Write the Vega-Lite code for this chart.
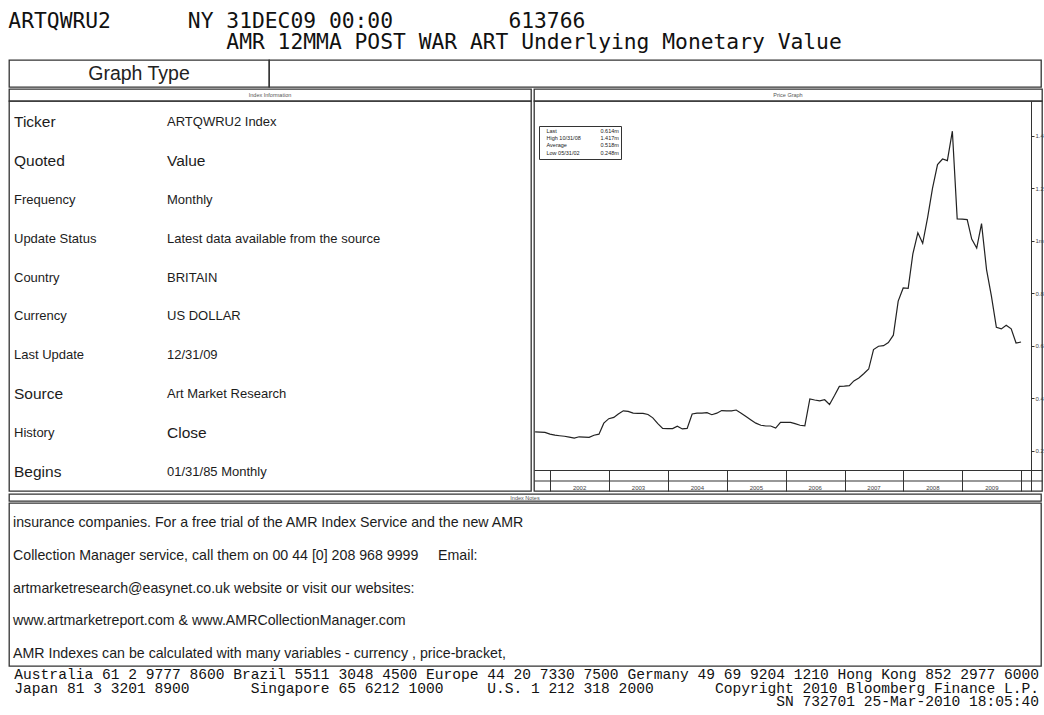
{
  "$schema": "https://vega.github.io/schema/vega-lite/v6.json",
  "background": "white",
  "padding": {"left": 8, "top": 11, "right": 0, "bottom": 0},
  "spacing": 0,
  "resolve": {"scale": {"color": "independent"}, "legend": {"color": "independent"}},
  "title": {
    "text": [
      "ARTQWRU2\u00a0\u00a0\u00a0\u00a0\u00a0\u00a0NY 31DEC09 00:00\u00a0\u00a0\u00a0\u00a0\u00a0\u00a0\u00a0\u00a0\u00a0613766",
      "\u200b\u00a0\u00a0\u00a0\u00a0\u00a0\u00a0\u00a0\u00a0\u00a0\u00a0\u00a0\u00a0\u00a0\u00a0\u00a0\u00a0\u00a0AMR 12MMA POST WAR ART Underlying Monetary Value"
    ],
    "anchor": "start",
    "font": "DejaVu Sans Mono",
    "fontSize": 21.3,
    "fontWeight": "normal",
    "color": "#111",
    "lineHeight": 21,
    "offset": 6
  },
  "config": {
    "view": {"stroke": "#333", "strokeWidth": 1.3},
    "font": "Liberation Sans"
  },
  "datasets": {
    "series": [
      {"date": "2001-09-30", "value": 0.272},
      {"date": "2001-10-31", "value": 0.271},
      {"date": "2001-11-30", "value": 0.270},
      {"date": "2001-12-31", "value": 0.263},
      {"date": "2002-01-31", "value": 0.259},
      {"date": "2002-02-28", "value": 0.257},
      {"date": "2002-03-31", "value": 0.255},
      {"date": "2002-04-30", "value": 0.252},
      {"date": "2002-05-31", "value": 0.248},
      {"date": "2002-06-30", "value": 0.253},
      {"date": "2002-07-31", "value": 0.252},
      {"date": "2002-08-31", "value": 0.251},
      {"date": "2002-09-30", "value": 0.259},
      {"date": "2002-10-31", "value": 0.263},
      {"date": "2002-11-30", "value": 0.305},
      {"date": "2002-12-31", "value": 0.322},
      {"date": "2003-01-31", "value": 0.327},
      {"date": "2003-02-28", "value": 0.340},
      {"date": "2003-03-31", "value": 0.352},
      {"date": "2003-04-30", "value": 0.350},
      {"date": "2003-05-31", "value": 0.343},
      {"date": "2003-06-30", "value": 0.342},
      {"date": "2003-07-31", "value": 0.342},
      {"date": "2003-08-31", "value": 0.338},
      {"date": "2003-09-30", "value": 0.325},
      {"date": "2003-10-31", "value": 0.303},
      {"date": "2003-11-30", "value": 0.285},
      {"date": "2003-12-31", "value": 0.284},
      {"date": "2004-01-31", "value": 0.284},
      {"date": "2004-02-29", "value": 0.293},
      {"date": "2004-03-31", "value": 0.283},
      {"date": "2004-04-30", "value": 0.285},
      {"date": "2004-05-31", "value": 0.340},
      {"date": "2004-06-30", "value": 0.343},
      {"date": "2004-07-31", "value": 0.343},
      {"date": "2004-08-31", "value": 0.345},
      {"date": "2004-09-30", "value": 0.337},
      {"date": "2004-10-31", "value": 0.343},
      {"date": "2004-11-30", "value": 0.353},
      {"date": "2004-12-31", "value": 0.352},
      {"date": "2005-01-31", "value": 0.352},
      {"date": "2005-02-28", "value": 0.355},
      {"date": "2005-03-31", "value": 0.343},
      {"date": "2005-04-30", "value": 0.330},
      {"date": "2005-05-31", "value": 0.317},
      {"date": "2005-06-30", "value": 0.305},
      {"date": "2005-07-31", "value": 0.297},
      {"date": "2005-08-31", "value": 0.294},
      {"date": "2005-09-30", "value": 0.294},
      {"date": "2005-10-31", "value": 0.286},
      {"date": "2005-11-30", "value": 0.308},
      {"date": "2005-12-31", "value": 0.308},
      {"date": "2006-01-31", "value": 0.308},
      {"date": "2006-02-28", "value": 0.303},
      {"date": "2006-03-31", "value": 0.297},
      {"date": "2006-04-30", "value": 0.295},
      {"date": "2006-05-31", "value": 0.397},
      {"date": "2006-06-30", "value": 0.393},
      {"date": "2006-07-31", "value": 0.390},
      {"date": "2006-08-31", "value": 0.394},
      {"date": "2006-09-30", "value": 0.376},
      {"date": "2006-10-31", "value": 0.410},
      {"date": "2006-11-30", "value": 0.445},
      {"date": "2006-12-31", "value": 0.446},
      {"date": "2007-01-31", "value": 0.448},
      {"date": "2007-02-28", "value": 0.466},
      {"date": "2007-03-31", "value": 0.477},
      {"date": "2007-04-30", "value": 0.493},
      {"date": "2007-05-31", "value": 0.511},
      {"date": "2007-06-30", "value": 0.585},
      {"date": "2007-07-31", "value": 0.598},
      {"date": "2007-08-31", "value": 0.600},
      {"date": "2007-09-30", "value": 0.612},
      {"date": "2007-10-31", "value": 0.640},
      {"date": "2007-11-30", "value": 0.770},
      {"date": "2007-12-31", "value": 0.820},
      {"date": "2008-01-31", "value": 0.818},
      {"date": "2008-02-29", "value": 0.950},
      {"date": "2008-03-31", "value": 1.030},
      {"date": "2008-04-30", "value": 0.990},
      {"date": "2008-05-31", "value": 1.090},
      {"date": "2008-06-30", "value": 1.200},
      {"date": "2008-07-31", "value": 1.290},
      {"date": "2008-08-31", "value": 1.311},
      {"date": "2008-09-30", "value": 1.305},
      {"date": "2008-10-31", "value": 1.417},
      {"date": "2008-11-30", "value": 1.083},
      {"date": "2008-12-31", "value": 1.082},
      {"date": "2009-01-31", "value": 1.080},
      {"date": "2009-02-28", "value": 1.006},
      {"date": "2009-03-31", "value": 0.972},
      {"date": "2009-04-30", "value": 1.065},
      {"date": "2009-05-31", "value": 0.890},
      {"date": "2009-06-30", "value": 0.790},
      {"date": "2009-07-31", "value": 0.670},
      {"date": "2009-08-31", "value": 0.664},
      {"date": "2009-09-30", "value": 0.678},
      {"date": "2009-10-31", "value": 0.664},
      {"date": "2009-11-30", "value": 0.610},
      {"date": "2009-12-31", "value": 0.614}
    ]
  },
  "vconcat": [
    {
      "hconcat": [
        {
          "width": 260,
          "height": 27,
          "data": {"values": [{"label": "Graph Type"}]},
          "mark": {"type": "text", "font": "Liberation Sans", "fontSize": 19.5, "color": "#222"},
          "encoding": {
            "x": {"datum": 0.5, "type": "quantitative", "scale": {"domain": [0, 1]}, "axis": null},
            "y": {"datum": 0.5, "type": "quantitative", "scale": {"domain": [0, 1]}, "axis": null},
            "text": {"field": "label"}
          }
        },
        {
          "width": 772,
          "height": 27,
          "data": {"values": [{}]},
          "mark": {"type": "text", "text": ""},
          "encoding": {
            "x": {"datum": 0.5, "type": "quantitative", "scale": {"domain": [0, 1]}, "axis": null},
            "y": {"datum": 0.5, "type": "quantitative", "scale": {"domain": [0, 1]}, "axis": null}
          }
        }
      ],
      "spacing": 0,
      "bounds": "flush"
    },
    {
      "hconcat": [
        {
          "vconcat": [
            {
              "width": 522,
              "height": 12,
              "data": {"values": [{"panel": "Index Information"}]},
              "mark": {"type": "text", "fontSize": 5.5, "color": "#555"},
              "encoding": {
                "x": {"datum": 0.5, "type": "quantitative", "scale": {"domain": [0, 1]}, "axis": null},
                "y": {"datum": 0.5, "type": "quantitative", "scale": {"domain": [0, 1]}, "axis": null},
                "text": {"field": "panel"}
              }
            },
            {
              "width": 522,
              "height": 390,
              "data": {"values": [
                {"item": "Ticker", "value": "ARTQWRU2 Index"},
                {"item": "Quoted", "value": "Value"},
                {"item": "Frequency", "value": "Monthly"},
                {"item": "Update Status", "value": "Latest data available from the source"},
                {"item": "Country", "value": "BRITAIN"},
                {"item": "Currency", "value": "US DOLLAR"},
                {"item": "Last Update", "value": "12/31/09"},
                {"item": "Source", "value": "Art Market Research"},
                {"item": "History", "value": "Close"},
                {"item": "Begins", "value": "01/31/85 Monthly"}
              ]},
              "encoding": {
                "y": {"field": "item", "type": "nominal", "sort": null, "scale": {"type": "point", "range": [21, 371], "padding": 0}, "axis": null}
              },
              "layer": [
                {
                  "mark": {"type": "text", "align": "left", "baseline": "middle", "color": "#1c1c1c", "font": "Liberation Sans"},
                  "encoding": {
                    "x": {"datum": "label", "type": "nominal", "scale": {"type": "point", "domain": ["label", "value"], "range": [5, 158], "padding": 0}, "axis": null},
                    "text": {"field": "item"},
                    "size": {"condition": {"test": "indexof(['Ticker','Quoted','Source','Begins'], datum.item) >= 0", "value": 15.5}, "value": 13}
                  }
                },
                {
                  "mark": {"type": "text", "align": "left", "baseline": "middle", "color": "#1c1c1c", "font": "Liberation Sans"},
                  "encoding": {
                    "x": {"datum": "value", "type": "nominal", "scale": {"type": "point", "domain": ["label", "value"], "range": [5, 158], "padding": 0}, "axis": null},
                    "text": {"field": "value"},
                    "size": {"condition": {"test": "datum.item == 'Quoted' || datum.item == 'History'", "value": 15.5}, "value": 13}
                  }
                }
              ]
            }
          ],
          "spacing": 0,
          "bounds": "flush"
        },
        {
          "resolve": {"scale": {"color": "independent"}, "legend": {"color": "independent"}},
          "vconcat": [
            {
              "width": 508,
              "height": 12,
              "data": {"values": [{"panel": "Price Graph"}]},
              "mark": {"type": "text", "fontSize": 5.5, "color": "#555"},
              "encoding": {
                "x": {"datum": 0.5, "type": "quantitative", "scale": {"domain": [0, 1]}, "axis": null},
                "y": {"datum": 0.5, "type": "quantitative", "scale": {"domain": [0, 1]}, "axis": null},
                "text": {"field": "panel"}
              }
            },
            {
              "width": 508,
              "height": 390,
              "resolve": {"axis": {"x": "independent"}},
              "layer": [
                {
                  "data": {"name": "series"},
                  "mark": {"type": "line", "color": "#222", "strokeWidth": 1.2},
                  "encoding": {
                    "x": {
                      "field": "date", "type": "temporal",
                      "scale": {"type": "utc", "domain": [{"year": 2001, "month": 9, "date": 23, "utc": true}, {"year": 2010, "month": 5, "date": 10, "utc": true}]},
                      "axis": {
                        "orient": "bottom", "offset": -21, "title": null, "grid": false,
                        "domain": true, "domainColor": "#333", "domainWidth": 1.2,
                        "ticks": true, "tickSize": 21, "tickColor": "#333", "tickWidth": 1,
                        "tickCount": {"interval": "year", "step": 1},
                        "labelExpr": "utcyear(datum.value) >= 2010 ? '' : utcFormat(datum.value, '%Y')",
                        "labelFontSize": 6, "labelColor": "#444", "labelOffset": 29, "labelPadding": -7,
                        "labelFlush": false, "labelOverlap": false, "labelAlign": "center"
                      }
                    },
                    "y": {
                      "field": "value", "type": "quantitative",
                      "scale": {"domain": [0.0465, 1.532], "zero": false, "nice": false},
                      "axis": {
                        "orient": "right", "offset": -11, "title": null, "grid": false,
                        "values": [0.2, 0.4, 0.6, 0.8, 1, 1.2, 1.4],
                        "labelExpr": "datum.value == 1 ? '1m' : format(datum.value, '.1f')",
                        "tickSize": 3, "tickColor": "#333",
                        "labelFontSize": 6, "labelColor": "#444", "labelPadding": 1,
                        "domainColor": "#333"
                      }
                    }
                  }
                },
                {
                  "data": {"name": "series"},
                  "mark": {"type": "line", "opacity": 0},
                  "encoding": {
                    "x": {
                      "field": "date", "type": "temporal",
                      "axis": {"orient": "bottom", "offset": -10.5, "title": null, "grid": false, "domain": true, "domainColor": "#333", "domainWidth": 1.2, "ticks": false, "labels": false}
                    },
                    "y": {"field": "value", "type": "quantitative"}
                  }
                },
                {
                  "data": {"values": [
                    {"stat": "Last", "val": "0.614m"},
                    {"stat": "High 10/31/08", "val": "1.417m"},
                    {"stat": "Average", "val": "0.518m"},
                    {"stat": "Low 05/31/02", "val": "0.248m"}
                  ]},
                  "transform": [{"fold": ["stat", "val"], "as": ["k", "entry"]}],
                  "mark": {"type": "point", "opacity": 0},
                  "encoding": {
                    "color": {
                      "field": "entry", "type": "nominal", "sort": null,
                      "scale": {"range": ["#000"]},
                      "legend": {
                        "title": null, "orient": "none", "legendX": 5, "legendY": 25,
                        "direction": "horizontal", "columns": 2,
                        "symbolSize": 0, "symbolStrokeWidth": 0, "symbolOpacity": 0,
                        "labelOffset": 0, "labelFontSize": 5.5, "labelColor": "#222", "labelFont": "Liberation Sans",
                        "rowPadding": 0.3, "columnPadding": 14, "padding": 2,
                        "strokeColor": "#333", "fillColor": "#fff", "labelLimit": 0
                      }
                    }
                  }
                }
              ]
            }
          ],
          "spacing": 0,
          "bounds": "flush"
        }
      ],
      "spacing": 0,
      "resolve": {"scale": {"color": "independent"}, "legend": {"color": "independent"}}
    },
    {
      "width": 1032,
      "height": 7,
      "data": {"values": [{"panel": "Index Notes"}]},
      "mark": {"type": "text", "fontSize": 5.5, "color": "#555"},
      "encoding": {
        "x": {"datum": 0.5, "type": "quantitative", "scale": {"domain": [0, 1]}, "axis": null},
        "y": {"datum": 0.5, "type": "quantitative", "scale": {"domain": [0, 1]}, "axis": null},
        "text": {"field": "panel"}
      }
    },
    {
      "width": 1032,
      "height": 163,
      "data": {"values": [
        {"line": "insurance companies. For a free trial of the AMR Index Service and the new AMR"},
        {"line": "Collection Manager service, call them on 00 44 [0] 208 968 9999\u00a0\u00a0\u00a0\u00a0 Email:"},
        {"line": "artmarketresearch@easynet.co.uk website or visit our websites:"},
        {"line": "www.artmarketreport.com & www.AMRCollectionManager.com"},
        {"line": "AMR Indexes can be calculated with many variables - currency , price-bracket,"}
      ]},
      "mark": {"type": "text", "align": "left", "baseline": "middle", "font": "Liberation Sans", "fontSize": 14.2, "color": "#1c1c1c", "dx": 4},
      "encoding": {
        "y": {"field": "line", "type": "nominal", "sort": null, "scale": {"type": "point", "range": [20, 151], "padding": 0}, "axis": null},
        "x": {"datum": 0, "type": "quantitative", "scale": {"domain": [0, 1]}, "axis": null},
        "text": {"field": "line"}
      }
    },
    {
      "width": 1032,
      "height": 40,
      "view": {"stroke": null},
      "data": {"values": [
        {"line": "Australia 61 2 9777 8600 Brazil 5511 3048 4500 Europe 44 20 7330 7500 Germany 49 69 9204 1210 Hong Kong 852 2977 6000"},
        {"line": "Japan 81 3 3201 8900\u00a0\u00a0\u00a0\u00a0\u00a0\u00a0\u00a0Singapore 65 6212 1000\u00a0\u00a0\u00a0\u00a0\u00a0U.S. 1 212 318 2000\u00a0\u00a0\u00a0\u00a0\u00a0\u00a0\u00a0Copyright 2010 Bloomberg Finance L.P."},
        {"line": "SN 732701 25-Mar-2010 18:05:40"}
      ]},
      "mark": {"type": "text", "align": "right", "baseline": "middle", "font": "Liberation Mono", "fontSize": 14.6, "color": "#111", "dx": -2},
      "encoding": {
        "y": {"field": "line", "type": "nominal", "sort": null, "scale": {"type": "point", "range": [4, 31], "padding": 0}, "axis": null},
        "x": {"datum": 1, "type": "quantitative", "scale": {"domain": [0, 1]}, "axis": null},
        "text": {"field": "line"}
      }
    }
  ]
}
